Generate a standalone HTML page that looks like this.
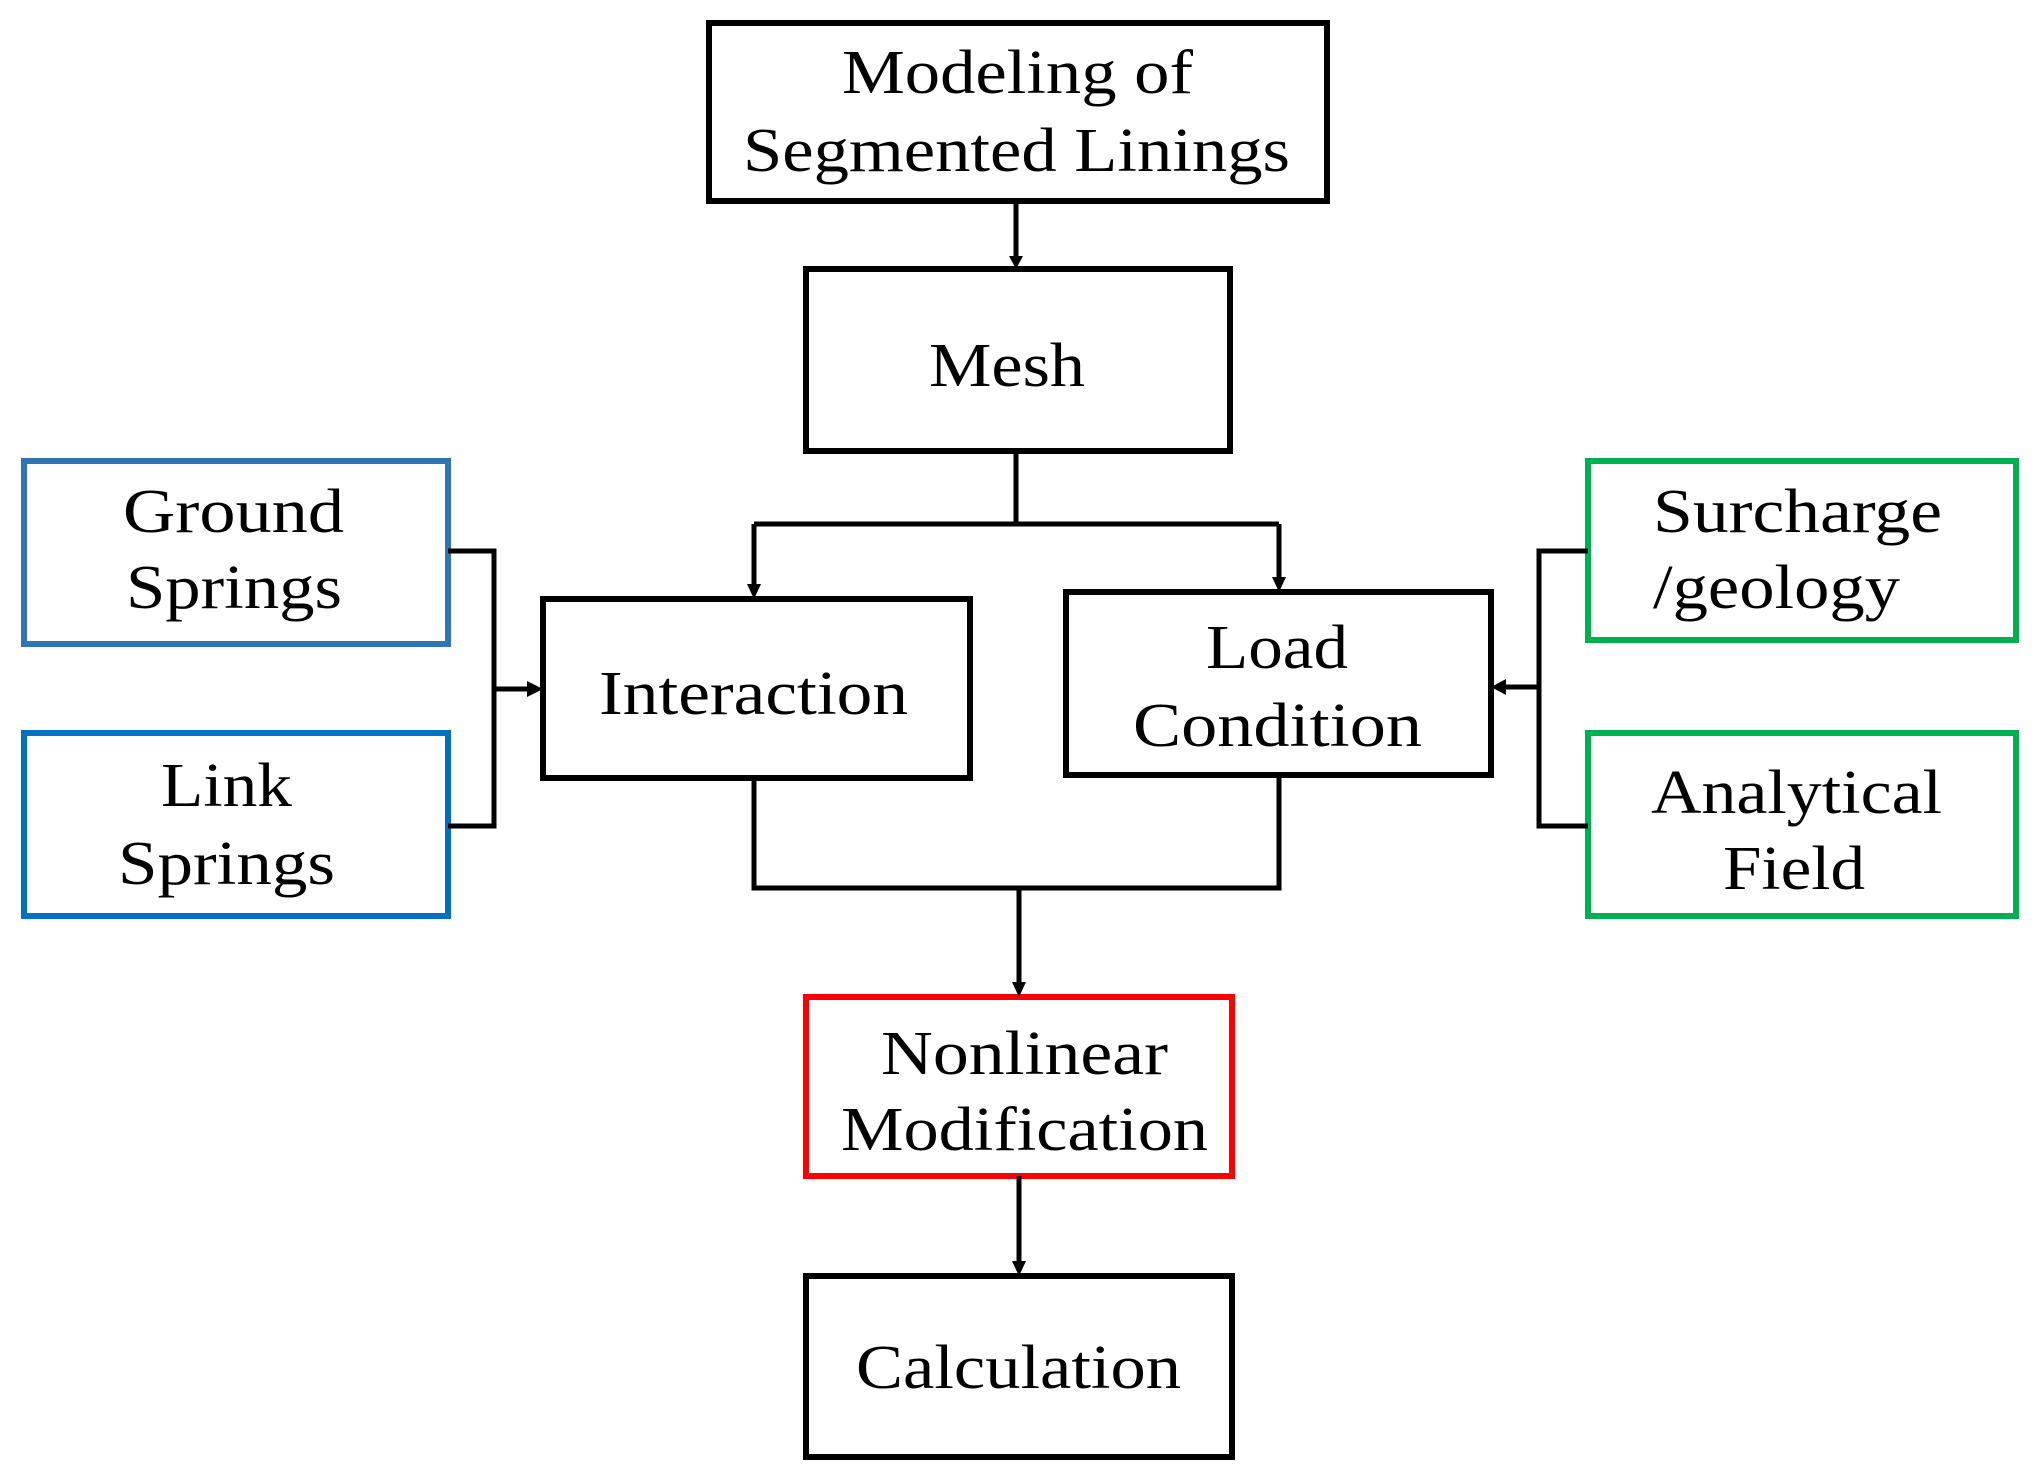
<!DOCTYPE html>
<html><head><meta charset="utf-8"><style>html,body{margin:0;padding:0;background:#fff}svg{display:block}</style></head>
<body>
<svg width="2038" height="1480" viewBox="0 0 2038 1480" xmlns="http://www.w3.org/2000/svg">
<g fill="none" stroke-width="6">
<rect x="709" y="23" width="618" height="178" stroke="#000"/>
<rect x="806" y="269" width="424" height="182" stroke="#000"/>
<rect x="24" y="461" width="424" height="183" stroke="#2e75b6"/>
<rect x="24" y="733" width="424" height="183" stroke="#0070c0"/>
<rect x="543" y="599" width="427" height="179" stroke="#000"/>
<rect x="1066" y="592" width="425" height="183" stroke="#000"/>
<rect x="1588" y="461" width="428" height="179" stroke="#00b050"/>
<rect x="1588" y="733" width="428" height="183" stroke="#00b050"/>
<rect x="806" y="997" width="426" height="179" stroke="#ff0000"/>
<rect x="806" y="1276" width="426" height="181" stroke="#000"/>
</g>
<g fill="none" stroke="#000" stroke-width="5">
<path d="M1016 201 V258"/>
<path d="M1016 451 V524 M754 524 H1279 M754 524 V586 M1279 524 V579"/>
<path d="M448 551 H494 V826 H448 M494 689 H528"/>
<path d="M1588 551 H1539 V826 H1588 M1539 687 H1504"/>
<path d="M754 778 V888 H1279 V775 M1019 888 V984"/>
<path d="M1019 1176 V1263"/>
</g>
<g fill="#000">
<polygon points="1009,256 1023,256 1016,269"/>
<polygon points="747,584 761,584 754,599"/>
<polygon points="1272,577 1286,577 1279,592"/>
<polygon points="527,681 527,697 543,689"/>
<polygon points="1506,679 1506,695 1491,687"/>
<polygon points="1012,982 1026,982 1019,997"/>
<polygon points="1012,1261 1026,1261 1019,1276"/>
</g>
<g font-family="'Liberation Serif', serif" font-size="62" fill="#000">
<text x="842" y="93" textLength="351" lengthAdjust="spacingAndGlyphs">Modeling of</text>
<text x="743" y="171" textLength="547" lengthAdjust="spacingAndGlyphs">Segmented Linings</text>
<text x="929" y="386" textLength="156" lengthAdjust="spacingAndGlyphs">Mesh</text>
<text x="123" y="532" textLength="221" lengthAdjust="spacingAndGlyphs">Ground</text>
<text x="126" y="608" textLength="216" lengthAdjust="spacingAndGlyphs">Springs</text>
<text x="161" y="806" textLength="131" lengthAdjust="spacingAndGlyphs">Link</text>
<text x="118" y="884" textLength="217" lengthAdjust="spacingAndGlyphs">Springs</text>
<text x="599" y="714" textLength="309" lengthAdjust="spacingAndGlyphs">Interaction</text>
<text x="1206" y="668" textLength="142" lengthAdjust="spacingAndGlyphs">Load</text>
<text x="1133" y="746" textLength="289" lengthAdjust="spacingAndGlyphs">Condition</text>
<text x="1653" y="532" textLength="289" lengthAdjust="spacingAndGlyphs">Surcharge</text>
<text x="1653" y="608" textLength="247" lengthAdjust="spacingAndGlyphs">/geology</text>
<text x="1651" y="813" textLength="291" lengthAdjust="spacingAndGlyphs">Analytical</text>
<text x="1723" y="889" textLength="142" lengthAdjust="spacingAndGlyphs">Field</text>
<text x="881" y="1074" textLength="287" lengthAdjust="spacingAndGlyphs">Nonlinear</text>
<text x="841" y="1150" textLength="367" lengthAdjust="spacingAndGlyphs">Modification</text>
<text x="856" y="1388" textLength="325" lengthAdjust="spacingAndGlyphs">Calculation</text>
</g>
</svg>
</body></html>
